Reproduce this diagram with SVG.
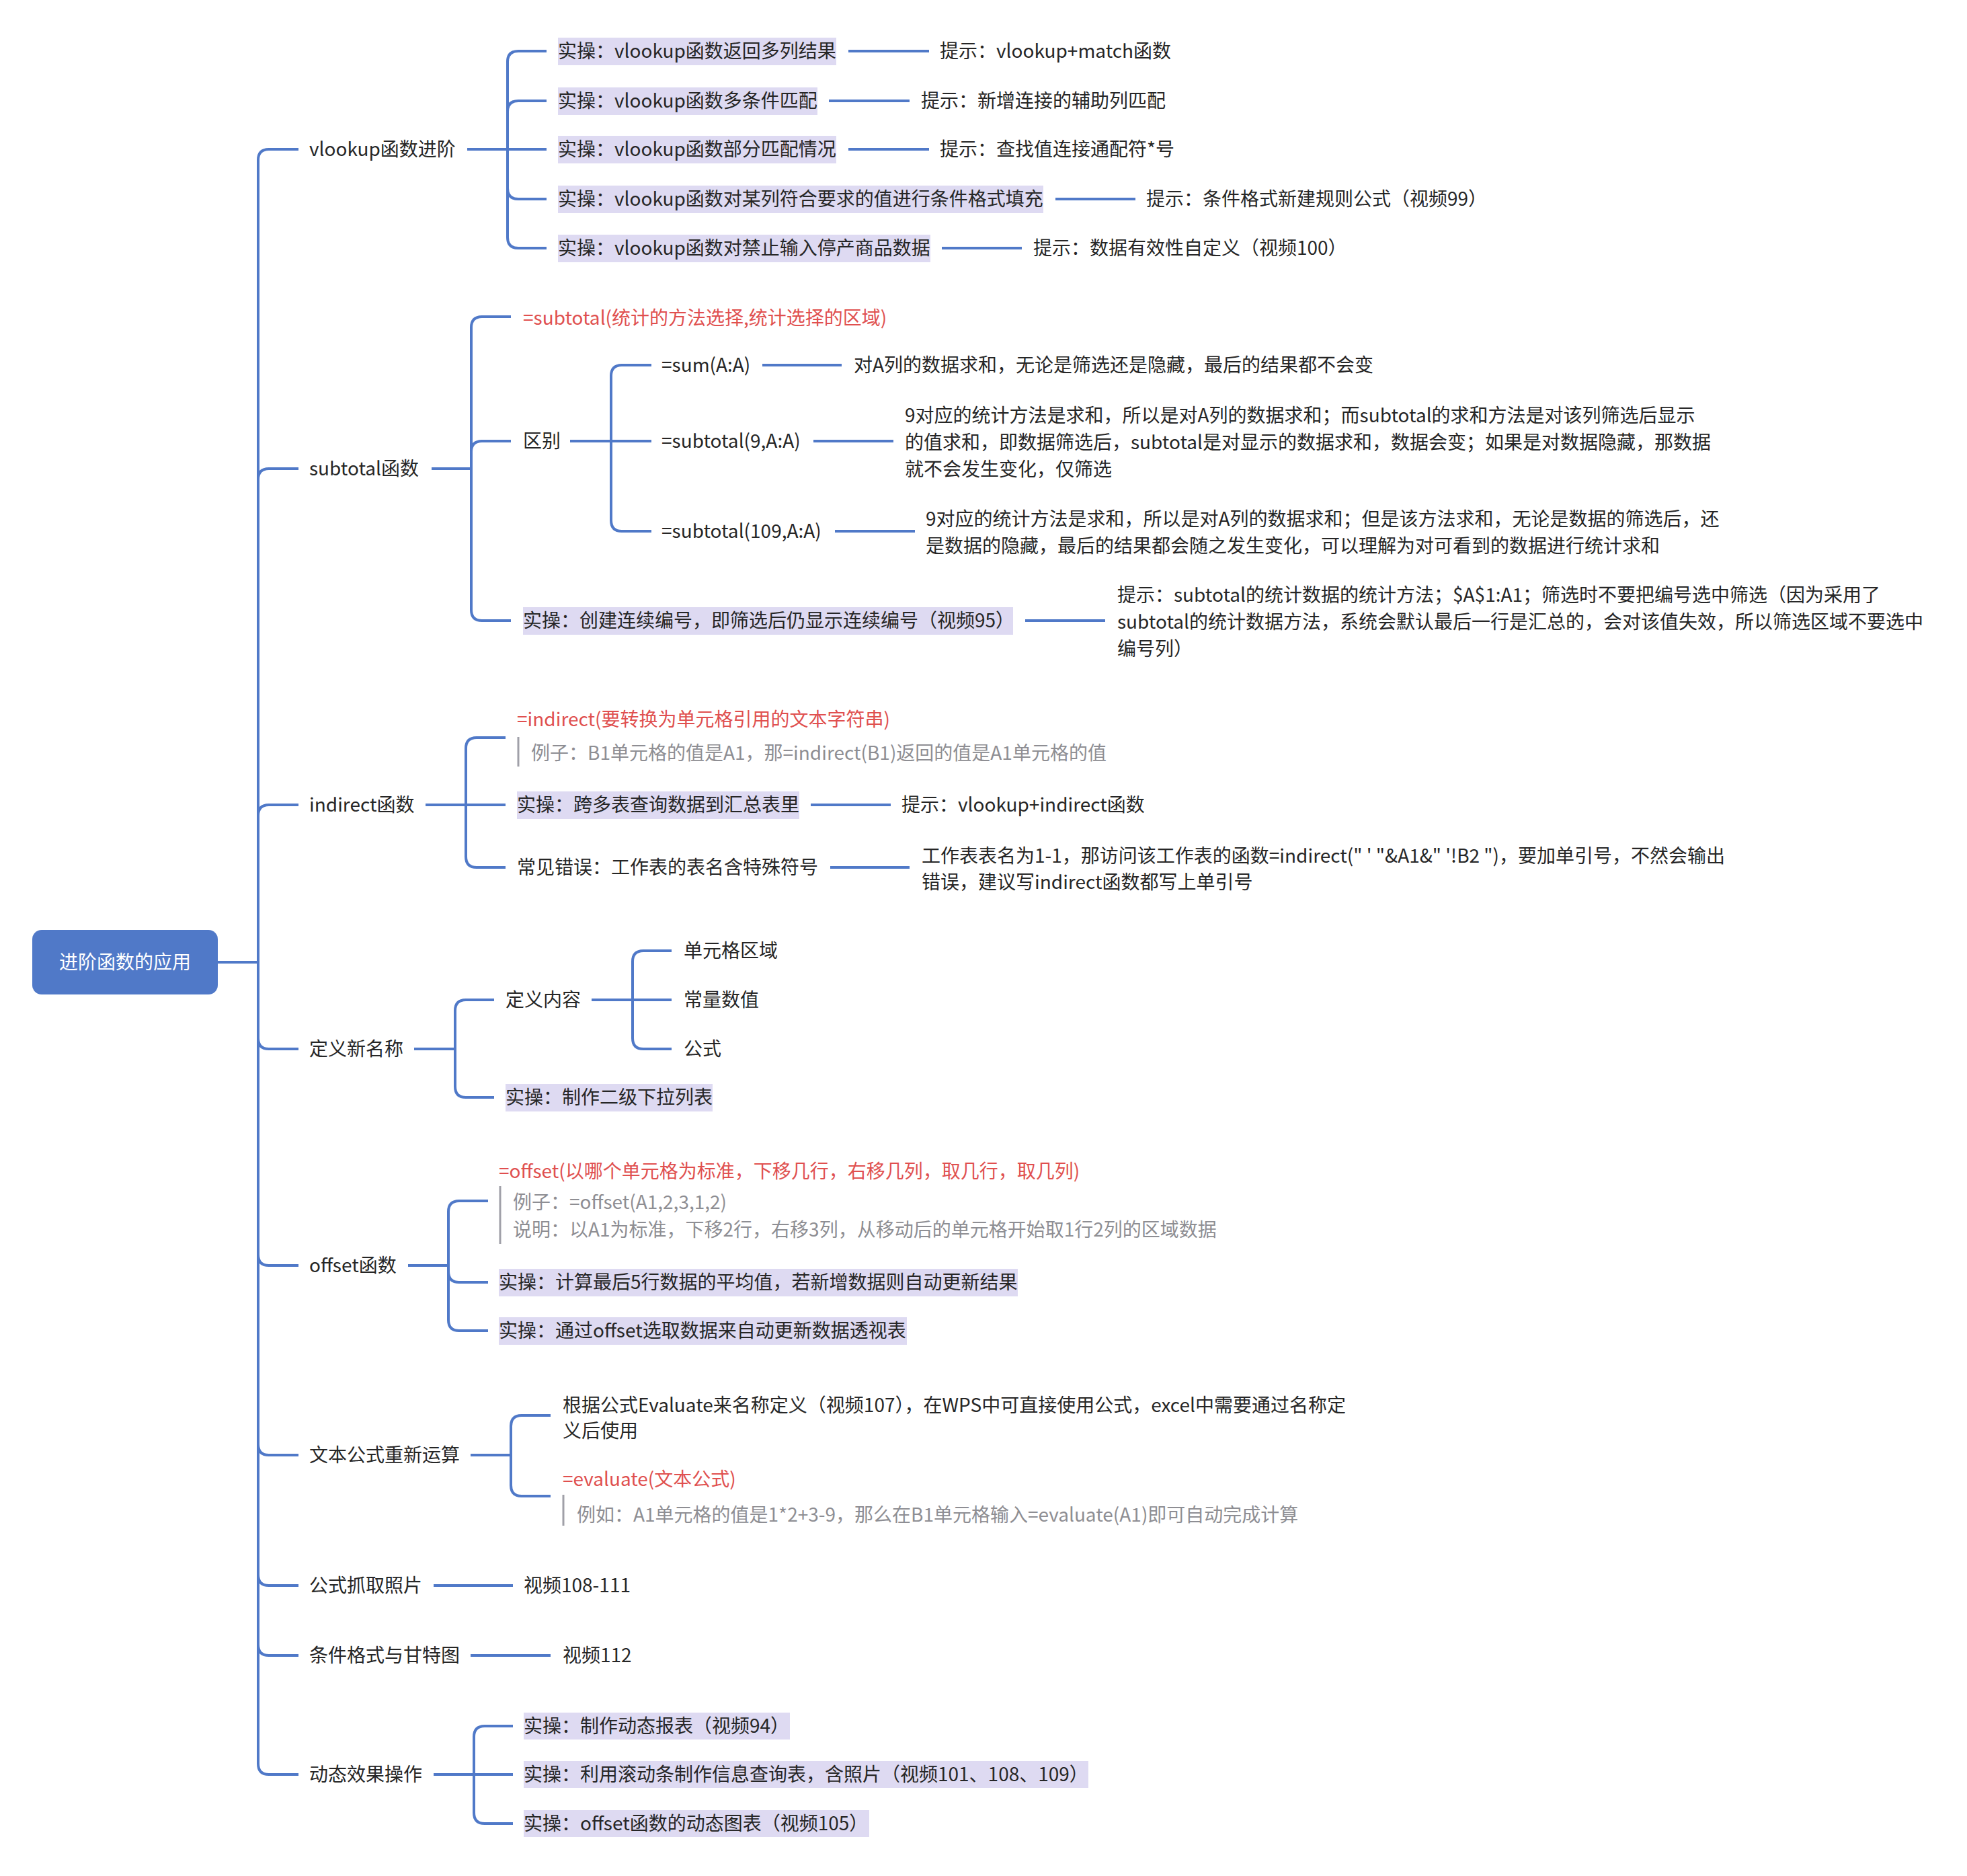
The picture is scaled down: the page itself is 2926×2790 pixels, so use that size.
<svg xmlns="http://www.w3.org/2000/svg" width="2926" height="2790" viewBox="0 0 2926 2790">
<style>
text{font-family:"Noto Sans CJK SC","Noto Sans",sans-serif;font-size:28px;fill:#262626}
.red{fill:#e0504f}
.gray{fill:#8e8e93}
.wh{fill:#ffffff}
.hl{fill:#dedaf2}
.ln{fill:none;stroke:#5079c8;stroke-width:4}
.bar{stroke:#a0a0a8;stroke-width:3}
</style>
<rect width="2926" height="2790" fill="#ffffff"/>
<g id="connectors">
<path class="ln" d="M324 1431H384"/>
<path class="ln" d="M384 1431V238Q384 222 400 222H444"/>
<path class="ln" d="M384 1431V713Q384 697 400 697H444"/>
<path class="ln" d="M384 1431V1213Q384 1197 400 1197H444"/>
<path class="ln" d="M384 1431V1544Q384 1560 400 1560H444"/>
<path class="ln" d="M384 1431V1866Q384 1882 400 1882H444"/>
<path class="ln" d="M384 1431V2148Q384 2164 400 2164H444"/>
<path class="ln" d="M384 1431V2342Q384 2358 400 2358H444"/>
<path class="ln" d="M384 1431V2446Q384 2462 400 2462H444"/>
<path class="ln" d="M384 1431V2623Q384 2639 400 2639H444"/>
<path class="ln" d="M695 222H755"/>
<path class="ln" d="M755 222V92Q755 76 771 76H813"/>
<path class="ln" d="M755 222V166Q755 150 771 150H813"/>
<path class="ln" d="M755 222H813"/>
<path class="ln" d="M755 222V280Q755 296 771 296H813"/>
<path class="ln" d="M755 222V353Q755 369 771 369H813"/>
<path class="ln" d="M1262 76H1382"/>
<path class="ln" d="M1233 150H1353"/>
<path class="ln" d="M1262 222H1382"/>
<path class="ln" d="M1570 296H1689"/>
<path class="ln" d="M1401 369H1520"/>
<path class="ln" d="M642 697H701"/>
<path class="ln" d="M701 697V487Q701 471 717 471H760"/>
<path class="ln" d="M701 697V672Q701 656 717 656H760"/>
<path class="ln" d="M701 697V907Q701 923 717 923H760"/>
<path class="ln" d="M848 656H909"/>
<path class="ln" d="M909 656V559Q909 543 925 543H969"/>
<path class="ln" d="M909 656H969"/>
<path class="ln" d="M909 656V774Q909 790 925 790H969"/>
<path class="ln" d="M1134 543H1252"/>
<path class="ln" d="M1210 656H1329"/>
<path class="ln" d="M1242 790H1361"/>
<path class="ln" d="M1525 923H1644"/>
<path class="ln" d="M633 1197H693"/>
<path class="ln" d="M693 1197V1113Q693 1097 709 1097H752"/>
<path class="ln" d="M693 1197H752"/>
<path class="ln" d="M693 1197V1274Q693 1290 709 1290H752"/>
<path class="ln" d="M1206 1197H1325"/>
<path class="ln" d="M1235 1290H1353"/>
<path class="ln" d="M616 1560H677"/>
<path class="ln" d="M677 1560V1503Q677 1487 693 1487H735"/>
<path class="ln" d="M677 1560V1616Q677 1632 693 1632H735"/>
<path class="ln" d="M880 1487H941"/>
<path class="ln" d="M941 1487V1430Q941 1414 957 1414H999"/>
<path class="ln" d="M941 1487H999"/>
<path class="ln" d="M941 1487V1544Q941 1560 957 1560H999"/>
<path class="ln" d="M607 1882H667"/>
<path class="ln" d="M667 1882V1802Q667 1786 683 1786H726"/>
<path class="ln" d="M667 1882V1891Q667 1907 683 1907H726"/>
<path class="ln" d="M667 1882V1963Q667 1979 683 1979H726"/>
<path class="ln" d="M700 2164H760"/>
<path class="ln" d="M760 2164V2121Q760 2105 776 2105H819"/>
<path class="ln" d="M760 2164V2209Q760 2225 776 2225H819"/>
<path class="ln" d="M645 2358H763"/>
<path class="ln" d="M700 2462H819"/>
<path class="ln" d="M645 2639H705"/>
<path class="ln" d="M705 2639V2583Q705 2567 721 2567H763"/>
<path class="ln" d="M705 2639H763"/>
<path class="ln" d="M705 2639V2696Q705 2712 721 2712H763"/>
</g>
<g id="root">
<rect x="48" y="1383" width="276" height="96" rx="14" fill="#5079c8"/>
<text class="wh" x="186" y="1441" text-anchor="middle">进阶函数的应用</text>
</g>
<g id="vlookup">
<text x="460" y="232">vlookup函数进阶</text>
</g>
<g id="v1"><rect class="hl" x="830" y="56" width="414" height="41"/><text x="830" y="86">实操：vlookup函数返回多列结果</text></g>
<g id="v1h"><text x="1398" y="86">提示：vlookup+match函数</text></g>
<g id="v2"><rect class="hl" x="830" y="130" width="386" height="41"/><text x="830" y="160">实操：vlookup函数多条件匹配</text></g>
<g id="v2h"><text x="1370" y="160">提示：新增连接的辅助列匹配</text></g>
<g id="v3"><rect class="hl" x="830" y="202" width="414" height="41"/><text x="830" y="232">实操：vlookup函数部分匹配情况</text></g>
<g id="v3h"><text x="1398" y="232">提示：查找值连接通配符*号</text></g>
<g id="v4"><rect class="hl" x="830" y="276" width="722" height="41"/><text x="830" y="306">实操：vlookup函数对某列符合要求的值进行条件格式填充</text></g>
<g id="v4h"><text x="1705" y="306">提示：条件格式新建规则公式（视频99）</text></g>
<g id="v5"><rect class="hl" x="830" y="349" width="554" height="41"/><text x="830" y="379">实操：vlookup函数对禁止输入停产商品数据</text></g>
<g id="v5h"><text x="1537" y="379">提示：数据有效性自定义（视频100）</text></g>
<g id="subtotal"><text x="460" y="707">subtotal函数</text></g>
<g id="s1"><text class="red" x="778" y="483">=subtotal(统计的方法选择,统计选择的区域)</text></g>
<g id="s2"><text x="778" y="666">区别</text></g>
<g id="s21"><text x="984" y="553">=sum(A:A)</text></g>
<g id="s21h"><text x="1270" y="553">对A列的数据求和，无论是筛选还是隐藏，最后的结果都不会变</text></g>
<g id="s22"><text x="984" y="666">=subtotal(9,A:A)</text></g>
<g id="s22h">
<text x="1346" y="628">9对应的统计方法是求和，所以是对A列的数据求和；而subtotal的求和方法是对该列筛选后显示</text>
<text x="1346" y="668">的值求和，即数据筛选后，subtotal是对显示的数据求和，数据会变；如果是对数据隐藏，那数据</text>
<text x="1346" y="708">就不会发生变化，仅筛选</text>
</g>
<g id="s23"><text x="984" y="800">=subtotal(109,A:A)</text></g>
<g id="s23h">
<text x="1377" y="782">9对应的统计方法是求和，所以是对A列的数据求和；但是该方法求和，无论是数据的筛选后，还</text>
<text x="1377" y="822">是数据的隐藏，最后的结果都会随之发生变化，可以理解为对可看到的数据进行统计求和</text>
</g>
<g id="s3"><rect class="hl" x="778" y="903" width="729" height="41"/><text x="778" y="933">实操：创建连续编号，即筛选后仍显示连续编号（视频95）</text></g>
<g id="s3h">
<text x="1662" y="895">提示：subtotal的统计数据的统计方法；$A$1:A1；筛选时不要把编号选中筛选（因为采用了</text>
<text x="1662" y="935">subtotal的统计数据方法，系统会默认最后一行是汇总的，会对该值失效，所以筛选区域不要选中</text>
<text x="1662" y="975">编号列）</text>
</g>
<g id="indirect"><text x="460" y="1207">indirect函数</text></g>
<g id="i1">
<text class="red" x="769" y="1080">=indirect(要转换为单元格引用的文本字符串)</text>
<line class="bar" x1="771" y1="1096" x2="771" y2="1140"/>
<text class="gray" x="790" y="1130">例子：B1单元格的值是A1，那=indirect(B1)返回的值是A1单元格的值</text>
</g>
<g id="i2"><rect class="hl" x="769" y="1177" width="420" height="41"/><text x="769" y="1207">实操：跨多表查询数据到汇总表里</text></g>
<g id="i2h"><text x="1341" y="1207">提示：vlookup+indirect函数</text></g>
<g id="i3"><text x="769" y="1300">常见错误：工作表的表名含特殊符号</text></g>
<g id="i3h">
<text x="1371" y="1283">工作表表名为1-1，那访问该工作表的函数=indirect(" ' "&amp;A1&amp;" '!B2 ")，要加单引号，不然会输出</text>
<text x="1371" y="1322">错误，建议写indirect函数都写上单引号</text>
</g>
<g id="define"><text x="460" y="1570">定义新名称</text></g>
<g id="d1"><text x="752" y="1497">定义内容</text></g>
<g id="d11"><text x="1017" y="1424">单元格区域</text></g>
<g id="d12"><text x="1017" y="1497">常量数值</text></g>
<g id="d13"><text x="1017" y="1570">公式</text></g>
<g id="d2"><rect class="hl" x="752" y="1612" width="308" height="41"/><text x="752" y="1642">实操：制作二级下拉列表</text></g>
<g id="offset"><text x="460" y="1892">offset函数</text></g>
<g id="o1">
<text class="red" x="742" y="1752">=offset(以哪个单元格为标准，下移几行，右移几列，取几行，取几列)</text>
<line class="bar" x1="744" y1="1764" x2="744" y2="1850"/>
<text class="gray" x="763" y="1798">例子：=offset(A1,2,3,1,2)</text>
<text class="gray" x="763" y="1839">说明：以A1为标准，下移2行，右移3列，从移动后的单元格开始取1行2列的区域数据</text>
</g>
<g id="o2"><rect class="hl" x="742" y="1887" width="772" height="41"/><text x="742" y="1917">实操：计算最后5行数据的平均值，若新增数据则自动更新结果</text></g>
<g id="o3"><rect class="hl" x="742" y="1959" width="607" height="41"/><text x="742" y="1989">实操：通过offset选取数据来自动更新数据透视表</text></g>
<g id="evaluate"><text x="460" y="2174">文本公式重新运算</text></g>
<g id="e1">
<text x="837" y="2100">根据公式Evaluate来名称定义（视频107），在WPS中可直接使用公式，excel中需要通过名称定</text>
<text x="837" y="2138">义后使用</text>
</g>
<g id="e2">
<text class="red" x="837" y="2210">=evaluate(文本公式)</text>
<line class="bar" x1="838" y1="2223" x2="838" y2="2269"/>
<text class="gray" x="858" y="2263">例如：A1单元格的值是1*2+3-9，那么在B1单元格输入=evaluate(A1)即可自动完成计算</text>
</g>
<g id="photo"><text x="460" y="2368">公式抓取照片</text></g>
<g id="photo1"><text x="779" y="2368">视频108-111</text></g>
<g id="gantt"><text x="460" y="2472">条件格式与甘特图</text></g>
<g id="gantt1"><text x="837" y="2472">视频112</text></g>
<g id="dynamic"><text x="460" y="2649">动态效果操作</text></g>
<g id="dy1"><rect class="hl" x="779" y="2547" width="396" height="40"/><text x="779" y="2577">实操：制作动态报表（视频94）</text></g>
<g id="dy2"><rect class="hl" x="779" y="2619" width="840" height="40"/><text x="779" y="2649">实操：利用滚动条制作信息查询表，含照片（视频101、108、109）</text></g>
<g id="dy3"><rect class="hl" x="779" y="2692" width="514" height="40"/><text x="779" y="2722">实操：offset函数的动态图表（视频105）</text></g>
</svg>
